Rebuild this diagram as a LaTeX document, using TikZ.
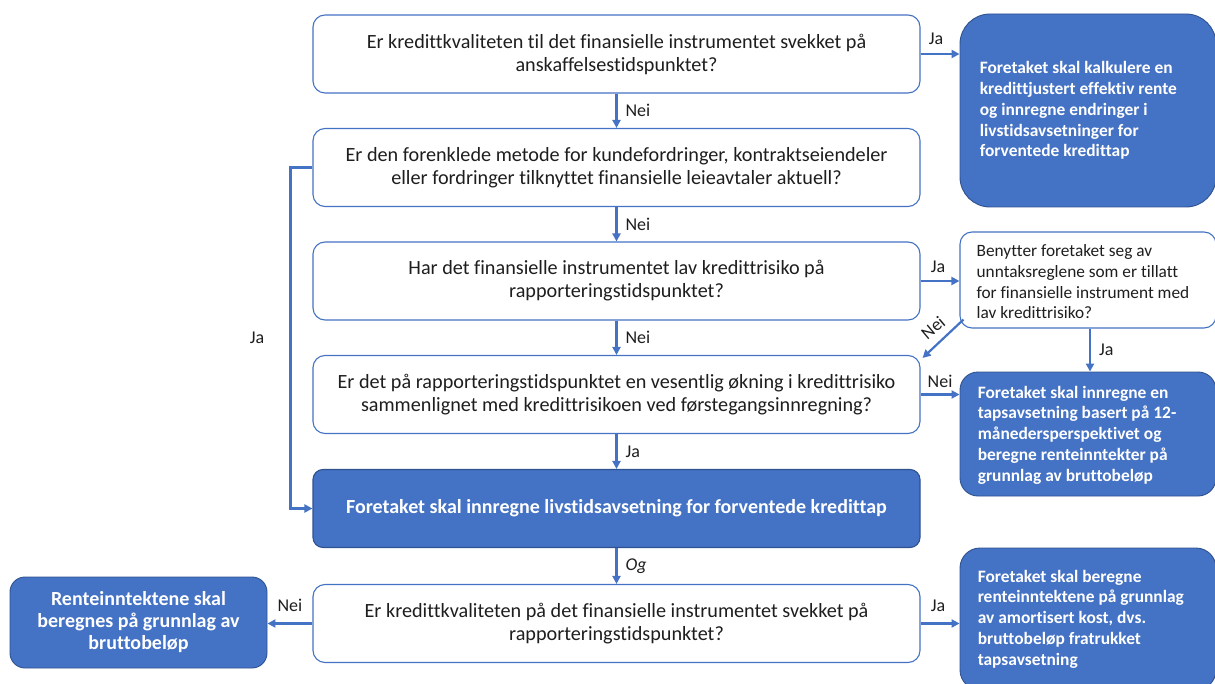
\documentclass[tikz,border=0pt]{standalone}
\usepackage{fontspec}
\setmainfont{Carlito}[Ligatures=NoCommon]
\usetikzlibrary{arrows.meta,calc}
\definecolor{blu}{HTML}{4472C4}
\definecolor{bluedge}{HTML}{2F528F}
\definecolor{txt}{HTML}{1E1E1E}
\begin{document}
\begin{tikzpicture}[x=1pt,y=-1pt,
  qbox/.style={draw=blu, line width=1.1pt, rounded corners=12pt, fill=white,
    minimum width=607pt, minimum height=78pt, align=center, inner sep=0pt,
    font=\fontsize{20.2}{23}\selectfont, text=txt},
  fbox/.style={draw=bluedge, line width=0.9pt, fill=blu, inner sep=0pt},
  wtext/.style={text=white, font=\bfseries\fontsize{17.4}{20.8}\selectfont, align=left, inner sep=0pt},
  arr/.style={draw=blu, line width=2.2pt, -{Triangle[length=8pt,width=8pt]}},
  lab/.style={font=\fontsize{18}{20}\selectfont, text=txt, inner sep=0pt}]
\useasboundingbox (0,0) rectangle (1215,684);

% main question column
\node[qbox] (q1) at (616.5,54) {Er kredittkvaliteten til det finansielle instrumentet svekket på\\anskaffelsestidspunktet?};
\node[qbox] (q2) at (616.5,167.5) {Er den forenklede metode for kundefordringer, kontraktseiendeler\\eller fordringer tilknyttet finansielle leieavtaler aktuell?};
\node[qbox] (q3) at (616.5,281) {Har det finansielle instrumentet lav kredittrisiko på\\rapporteringstidspunktet?};
\node[qbox] (q4) at (616.5,394.5) {Er det på rapporteringstidspunktet en vesentlig økning i kredittrisiko\\sammenlignet med kredittrisikoen ved førstegangsinnregning?};
\node[qbox, draw=bluedge, fill=blu, text=white, font=\bfseries\fontsize{20}{23}\selectfont, rounded corners=10pt] (q5) at (616.5,508.5) {Foretaket skal innregne livstidsavsetning for forventede kredittap};
\node[qbox] (q6) at (616.5,623.5) {Er kredittkvaliteten på det finansielle instrumentet svekket på\\rapporteringstidspunktet?};

% right column
\node[fbox, rounded corners=30pt, minimum width=256pt, minimum height=193pt] (r1) at (1088,110.5) {};
\node[wtext, anchor=west] (r1t) at ([xshift=20pt]r1.west) {Foretaket skal kalkulere en\\kredittjustert effektiv rente\\og innregne endringer i\\livstidsavsetninger for\\forventede kredittap};

\node[draw=blu, line width=1.1pt, fill=white, rounded corners=12pt, minimum width=256pt, minimum height=96pt, inner sep=0pt] (b) at (1088,280) {};
\node[anchor=west, align=left, inner sep=0pt, text=txt, font=\fontsize{17.3}{20.7}\selectfont] (bt) at ([xshift=17pt,yshift=-2pt]b.west) {Benytter foretaket seg av\\unntaksreglene som er tillatt\\for finansielle instrument med\\lav kredittrisiko?};

\node[fbox, rounded corners=18pt, minimum width=256pt, minimum height=124pt] (r2) at (1088,434) {};
\node[wtext, anchor=west] (r2t) at ([xshift=18pt,yshift=-1pt]r2.west) {Foretaket skal innregne en\\tapsavsetning basert på 12-\\månedersperspektivet og\\beregne renteinntekter på\\grunnlag av bruttobeløp};

\node[fbox, rounded corners=20pt, minimum width=256pt, minimum height=142pt] (r3) at (1088,619) {};
\node[wtext, anchor=west] (r3t) at ([xshift=18pt]r3.west) {Foretaket skal beregne\\renteinntektene på grunnlag\\av amortisert kost, dvs.\\bruttobeløp fratrukket\\tapsavsetning};

% left result
\node[fbox, rounded corners=15pt, minimum width=257pt, minimum height=91pt, text=white, align=center, font=\bfseries\fontsize{20}{22}\selectfont] (l) at (138.5,622.5) {Renteinntektene skal\\beregnes på grunnlag av\\bruttobeløp};

% connectors
\draw[arr] (q1) -- (q2) node[lab, midway, right=8pt] {Nei};
\draw[arr] (q2) -- (q3) node[lab, midway, right=8pt] {Nei};
\draw[arr] (q3) -- (q4) node[lab, midway, right=8pt] {Nei};
\draw[arr] (q4) -- (q5) node[lab, midway, right=8pt] {Ja};
\draw[arr] (q5) -- (q6) node[lab, midway, right=8pt, font=\itshape\fontsize{18}{20}\selectfont] {Og};

\draw[arr] (q1.east) -- (q1.east -| r1.west) node[lab, midway, above=8pt, xshift=-4pt] {Ja};
\draw[arr] (q3.east) -- (q3.east -| b.west) node[lab, midway, above=7pt, xshift=-2pt] {Ja};
\draw[arr] ($(b.south west)+(4,-9)$) -- ($(q4.north east)+(2,3)$) node[lab, midway, xshift=-10pt, yshift=11pt, rotate=40] {Nei};
\draw[arr] (b.south -| 1090,0) -- (r2.north -| 1090,0) node[lab, midway, right=8pt] {Ja};
\draw[arr] (q4.east) -- (q4.east -| r2.west) node[lab, midway, above=6pt] {Nei};

\draw[arr] (q2.west) -- ++(-22,0) |- (q5.west) node[lab, pos=0.25, left=25pt] {Ja};

\draw[arr] (q6.west) -- (q6.west -| l.east) node[lab, midway, above=11pt] {Nei};
\draw[arr] (q6.east) -- (q6.east -| r3.west) node[lab, midway, above=11pt, xshift=-2pt] {Ja};
\end{tikzpicture}
\end{document}
